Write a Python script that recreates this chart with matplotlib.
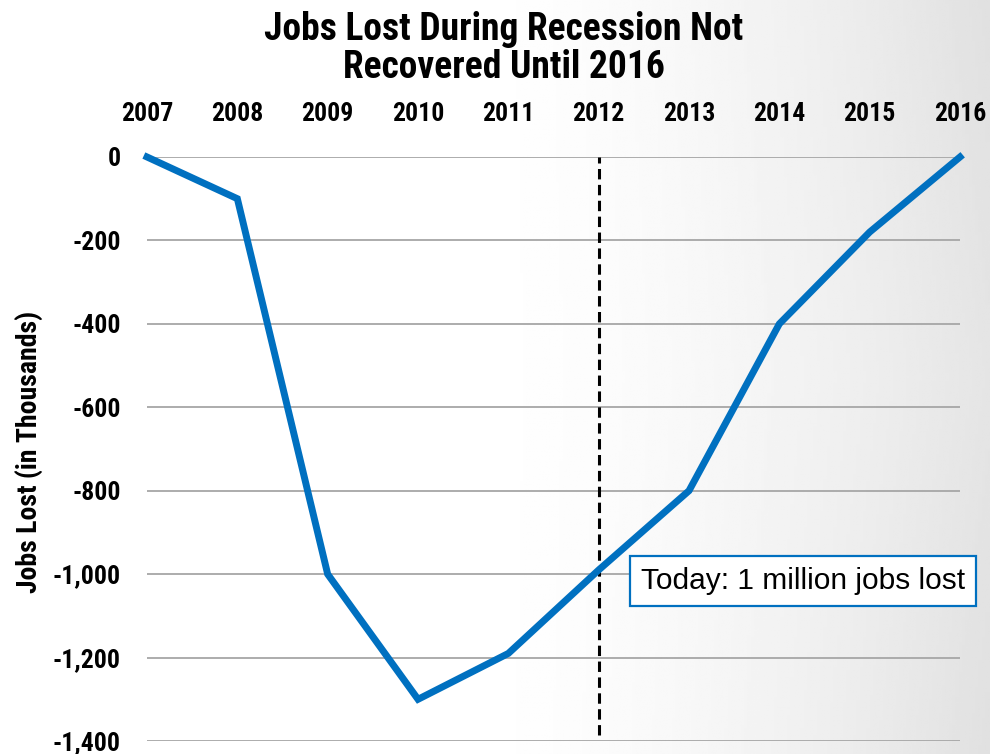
import numpy as np
import matplotlib
matplotlib.use('Agg')
import matplotlib.pyplot as plt

years = [2007, 2008, 2009, 2010, 2011, 2012, 2013, 2014, 2015, 2016]
jobs_lost = [0, -100, -1000, -1300, -1190, -990, -800, -400, -180, 0]
yticks = [0, -200, -400, -600, -800, -1000, -1200, -1400]
today_year = 2012

COND = ['Roboto Condensed', 'DejaVu Sans']
plt.rcParams['font.family'] = COND

fig = plt.figure(figsize=(9.9, 7.54), dpi=100)

# background: white on the left, fading to light grey toward the right edge
bg = fig.add_axes([0, 0, 1, 1], zorder=-10)
xx, yy = np.meshgrid(np.linspace(0, 1, 300), np.linspace(0, 1, 300))
d = np.clip((xx - 0.45) / 0.55, 0, 1) ** 1.7 * (0.85 + 0.15 * np.abs(yy - 0.5) * 2)
bg.imshow(1 - 0.12 * d, cmap='gray', vmin=0, vmax=1, extent=[0, 1, 0, 1],
          aspect='auto', origin='upper')
bg.axis('off')

ax = fig.add_axes([0.1485, 0.0172, 0.8212, 0.7746])
ax.patch.set_alpha(0)
ax.plot(years, jobs_lost, color='#0070C0', lw=5, clip_on=False,
        solid_joinstyle='miter', zorder=3)
ax.axvline(today_year, ymin=0.01, ymax=1, color='black', lw=2.2,
           ls=(0, (3.4, 1.8)), zorder=2)

ax.set_xlim(2007, 2016)
ax.set_ylim(-1400, 0)
ax.set_yticks(yticks)
ax.set_yticklabels([f'{v:,}' for v in yticks])
ax.set_xticks(years)
ax.xaxis.tick_top()
ax.tick_params(axis='x', length=0, pad=22, labelsize=18.5)
ax.tick_params(axis='y', length=0, pad=19, labelsize=18.5)
for lab in ax.get_xticklabels() + ax.get_yticklabels():
    lab.set_fontweight('bold')
ax.grid(axis='y', color='#A6A6A6', lw=1.3)
ax.set_axisbelow(True)
for s in ax.spines.values():
    s.set_visible(False)

fig.text(0.029, 0.4005, 'Jobs Lost (in Thousands)', rotation=90, ha='center',
         va='center', fontsize=20, fontweight='semibold')

fig.text(0.509, 0.947, 'Jobs Lost During Recession Not', ha='center',
         va='baseline', fontsize=27, fontweight='bold')
fig.text(0.509, 0.896, 'Recovered Until 2016', ha='center',
         va='baseline', fontsize=27, fontweight='bold')

ax.text(2014.26, -1016, 'Today: 1 million jobs lost', family='Liberation Sans',
        fontsize=21.5, va='center', ha='center', zorder=5,
        bbox=dict(boxstyle='square,pad=0.36', fc='white', ec='#0070C0', lw=1.6))

fig.savefig('out.png', dpi=100)
